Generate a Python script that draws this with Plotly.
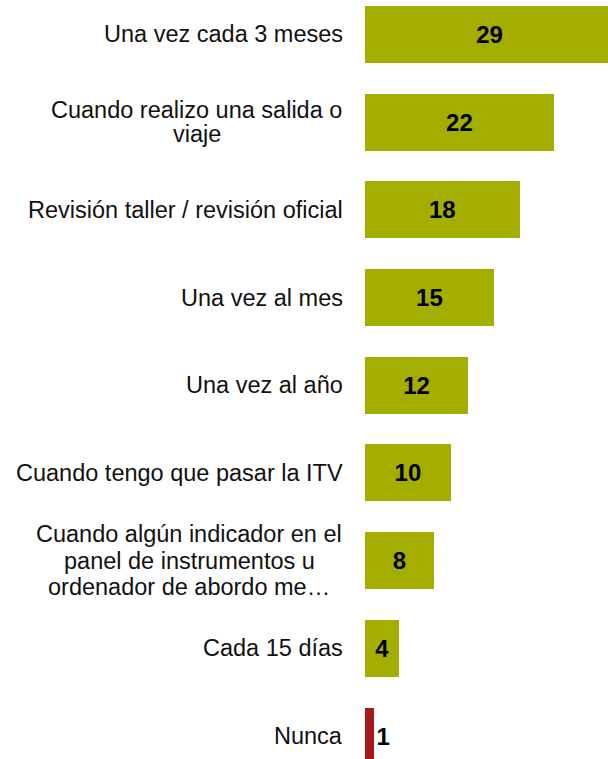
import plotly.graph_objects as go

categories = [
    ["Una vez cada 3 meses"],
    ["Cuando realizo una salida o", "viaje"],
    ["Revisión taller / revisión oficial"],
    ["Una vez al mes"],
    ["Una vez al año"],
    ["Cuando tengo que pasar la ITV"],
    ["Cuando algún indicador en el", "panel de instrumentos u", "ordenador de abordo me…"],
    ["Cada 15 días"],
    ["Nunca"],
]
values = [29, 22, 18, 15, 12, 10, 8, 4, 1]
value_labels = ["29", "22", "18", "15", "12", "10", "8", "4", "1"]

GREEN = "#A3AE00"
RED = "#A8191A"
colors = [GREEN] * 8 + [RED]
textpos = ["inside"] * 8 + ["outside"]

FONT = "Liberation Sans, Arial, sans-serif"
W, H = 608, 759
fig = go.Figure()
fig.add_trace(go.Bar(
    y=list(range(len(categories))),
    x=values,
    orientation="h",
    width=0.65,
    marker=dict(color=colors, line=dict(width=0)),
    text=value_labels,
    textposition=textpos,
    insidetextanchor="middle",
    textangle=0,
    insidetextfont=dict(family=FONT, size=24, color="black", weight="bold"),
    outsidetextfont=dict(family=FONT, size=24, color="black", weight="bold"),
    cliponaxis=True,
    hoverinfo="skip",
))

label_right = 345 / W
# centre of wrapped (multi-line) label blocks, in pixels; line spacing in pixels
block_center = {1: 196.5, 6: 189}
line_gap = {1: 23.5, 6: 26.5}
for i, lines in enumerate(categories):
    n = len(lines)
    if n == 1:
        fig.add_annotation(
            x=label_right, xref="paper", y=i, yref="y",
            text=lines[0], showarrow=False, xanchor="right", yanchor="middle",
            font=dict(family=FONT, size=23.5, color="#111111"),
        )
    else:
        for k, line in enumerate(lines):
            off = (k - (n - 1) / 2) * line_gap[i]
            fig.add_annotation(
                x=block_center[i] / W, xref="paper", y=i, yref="y",
                text=line, showarrow=False, xanchor="center", yanchor="middle",
                yshift=-off,
                font=dict(family=FONT, size=23.5, color="#111111"),
            )

fig.update_layout(
    width=W, height=H,
    margin=dict(l=0, r=0, t=0, b=0),
    paper_bgcolor="white", plot_bgcolor="white",
    showlegend=False,
    xaxis=dict(domain=[365 / W, 1], range=[0, 28.3], visible=False, fixedrange=True),
    yaxis=dict(range=[8.262, -0.393], visible=False, fixedrange=True),
    bargap=0,
)

fig.write_html("out.html", config={"displayModeBar": False, "staticPlot": True},
               post_script="document.body.style.margin='0';")
